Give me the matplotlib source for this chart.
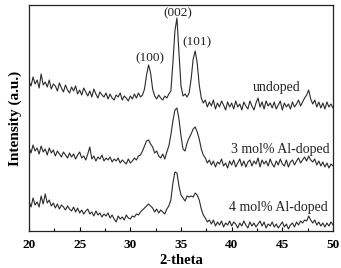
import numpy as np
import matplotlib
matplotlib.use("Agg")
import matplotlib.pyplot as plt
from matplotlib.ticker import MultipleLocator

plt.rcParams['font.family'] = ['Liberation Serif', 'DejaVu Serif']

# 2-theta sampling: 20 to 50 deg, step 0.2
two_theta = np.linspace(20, 50, 151)

undoped = [150, 145, 154, 147, 151, 143, 157, 146, 149, 144,
           151, 142, 147, 145, 140, 148, 143, 139, 146, 141,
           138, 144, 140, 145, 137, 141, 136, 143, 139, 135,
           140, 134, 142, 137, 133, 139, 136, 134, 138, 132,
           137, 133, 131, 136, 134, 138, 131, 135, 133, 130,
           135, 132, 137, 133, 138, 134, 136, 142, 156, 166,
           158, 142, 135, 132, 136, 133, 131, 135, 133, 137,
           140, 168, 200, 213, 178, 145, 135, 137, 134, 138,
           152, 172, 180, 168, 146, 133, 128, 131, 124, 129,
           125, 131, 122, 128, 124, 130, 126, 121, 129, 124,
           128, 122, 130, 124, 127, 121, 129, 125, 122, 130,
           125, 121, 128, 133, 124, 129, 122, 130, 125, 128,
           123, 129, 122, 126, 130, 121, 128, 124, 127, 122,
           129, 124, 127, 131, 125, 129, 133, 136, 141, 132,
           127, 131, 124, 129, 123, 128, 122, 129, 124, 127, 123]

al3 = [84, 78, 86, 80, 83, 77, 85, 79, 82, 76,
       83, 78, 81, 75, 80, 77, 74, 79, 76, 73,
       78, 74, 77, 72, 76, 79, 73, 75, 71, 77,
       84, 72, 75, 70, 74, 72, 76, 70, 73, 71,
       74, 69, 72, 70, 73, 68, 71, 69, 67, 72,
       68, 70, 73, 71, 75, 76, 80, 85, 90, 91,
       87, 84, 78, 80, 75, 73, 77, 72, 79, 85,
       96, 110, 121, 123, 112, 95, 82, 80, 88, 93,
       97, 102, 104, 99, 92, 82, 76, 73, 68, 71,
       66, 70, 64, 69, 67, 72, 65, 68, 63, 70,
       66, 71, 64, 68, 72, 65, 70, 64, 69, 71,
       65, 70, 67, 73, 64, 71, 67, 70, 65, 72,
       67, 64, 70, 66, 72, 67, 65, 71, 64, 69,
       71, 66, 70, 73, 68, 71, 74, 70, 75, 71,
       69, 72, 66, 70, 65, 69, 64, 68, 63, 67, 65]

al4 = [30, 24, 33, 26, 29, 24, 35, 27, 37, 28,
       31, 25, 28, 23, 27, 22, 26, 24, 21, 25,
       22, 20, 24, 19, 23, 18, 21, 17, 20, 22,
       17, 19, 15, 20, 16, 18, 14, 17, 15, 18,
       13, 16, 12, 9, 15, 12, 14, 11, 16, 13,
       12, 15, 14, 17, 16, 19, 21, 23, 25, 27,
       25, 23, 19, 22, 18, 21, 19, 17, 22, 25,
       31, 48, 59, 58, 45, 36, 33, 30, 35, 34,
       35, 34, 38, 36, 31, 22, 16, 13, 9, 11,
       7, 11, 5, 9, 6, 10, 4, 8, 6, 10,
       5, 9, 7, 3, 8, 5, 10, 6, 3, 9,
       5, 8, 4, 7, 10, 5, 9, 3, 7, 5,
       9, 4, 7, 3, 6, 9, 4, 7, 2, 6,
       8, 4, 9, 6, 10, 8, 11, 10, 15, 11,
       8, 11, 6, 9, 5, 8, 4, 8, 5, 9, 6]

peak_labels = ['(100)', '(002)', '(101)']
peak_pos = [31.9, 34.65, 36.6]
peak_y = [173, 218, 189]

series_labels = ['undoped', '3 mol% Al-doped', '4 mol% Al-doped']
label_x = [44.4, 49.7, 49.5]
label_y = [143, 82, 24]
label_ha = ['center', 'right', 'right']
xticks = [20, 25, 30, 35, 40, 45, 50]

fig = plt.figure(figsize=(3.41, 2.68), dpi=100)
ax = fig.add_axes([29/341, 1-231/268, 304/341, 226/268])

for s in (undoped, al3, al4):
    ax.plot(two_theta, s, color='#2a2a2a', lw=0.8)

ax.set_xlim(20, 50)
ax.set_ylim(0, 226)
ax.set_yticks([])
ax.set_xticks(xticks)
ax.xaxis.set_minor_locator(MultipleLocator(2.5))
ax.tick_params(axis='x', which='major', direction='in', length=3, width=0.8, pad=6)
ax.tick_params(axis='x', which='minor', direction='in', length=2, width=0.8)
for lab in ax.get_xticklabels():
    lab.set_fontweight('bold')
    lab.set_fontsize(9.5)
for sp in ax.spines.values():
    sp.set_linewidth(0.9)
    sp.set_color('#222222')

for t, xp, yp in zip(peak_labels, peak_pos, peak_y):
    ax.text(xp, yp, t, ha='center', va='center', fontsize=9.5, color='#222222')

for t, xp, yp, ha in zip(series_labels, label_x, label_y, label_ha):
    ax.text(xp, yp, t, ha=ha, va='center', fontsize=10, color='#222222')

ax.set_ylabel('Intensity (a.u.)', fontsize=11, fontweight='bold', labelpad=5)
fig.text(0.5 * (29 + 333) / 341, 1/268, '2-theta', ha='center', va='bottom',
         fontsize=10.5, fontweight='bold')

fig.savefig('out.png', dpi=100)
